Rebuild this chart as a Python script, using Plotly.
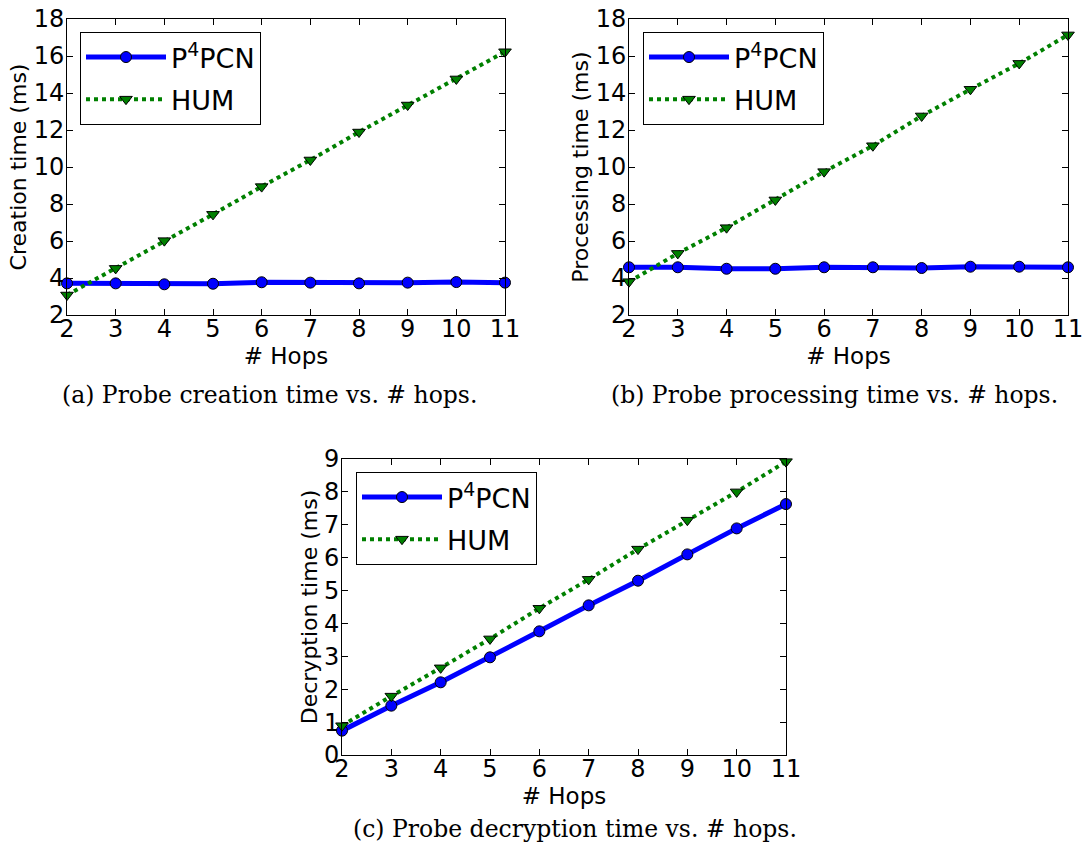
import plotly.graph_objects as go

hops = [2, 3, 4, 5, 6, 7, 8, 9, 10, 11]

creation_p4pcn = [3.71, 3.71, 3.66, 3.69, 3.77, 3.75, 3.71, 3.75, 3.78, 3.75]
creation_hum = [3.08, 4.52, 6.02, 7.44, 8.94, 10.38, 11.89, 13.35, 14.76, 16.23]

processing_p4pcn = [4.58, 4.58, 4.50, 4.50, 4.58, 4.58, 4.54, 4.61, 4.61, 4.58]
processing_hum = [3.80, 5.33, 6.72, 8.22, 9.75, 11.15, 12.76, 14.20, 15.60, 17.14]

decryption_p4pcn = [0.74, 1.50, 2.21, 2.97, 3.76, 4.55, 5.30, 6.10, 6.89, 7.63]
decryption_hum = [0.89, 1.79, 2.65, 3.53, 4.46, 5.34, 6.26, 7.14, 8.00, 8.92]

y_titles = ["Creation time (ms)", "Processing time (ms)", "Decryption time (ms)"]
captions = ["(a) Probe creation time vs. # hops.",
            "(b) Probe processing time vs. # hops.",
            "(c) Probe decryption time vs. # hops."]

W, H = 1090, 851
def px(x):
    return x / W
def py(y):
    return 1 - y / H

fig = go.Figure()

panels = [
    dict(p=creation_p4pcn, h=creation_hum, xd=[px(67), px(505)], yd=[py(315), py(19)],
         yr=[2, 18], dt=2, leg=(80, 32), cap=(269, 395)),
    dict(p=processing_p4pcn, h=processing_hum, xd=[px(629), px(1068)], yd=[py(315), py(19)],
         yr=[2, 18], dt=2, leg=(643, 32), cap=(834, 395)),
    dict(p=decryption_p4pcn, h=decryption_hum, xd=[px(342), px(786)], yd=[py(755), py(459)],
         yr=[0, 9], dt=1, leg=(356, 472), cap=(575, 829)),
]

font_sans = "DejaVu Sans"
for i, pn in enumerate(panels):
    n = "" if i == 0 else str(i + 1)
    legname = "legend" + n
    fig.add_trace(go.Scatter(
        x=hops, y=pn["p"], name="P<sup>4</sup>PCN", mode="lines+markers",
        line=dict(color="#0000ff", width=5),
        marker=dict(symbol="circle", size=11, color="#0000ff", line=dict(color="black", width=1)),
        xaxis="x" + n, yaxis="y" + n, legend=legname, legendgroup="p" + n, cliponaxis=False))
    fig.add_trace(go.Scatter(
        x=hops, y=pn["h"], name="HUM", mode="lines+markers",
        line=dict(color="#008000", width=4, dash="dot"),
        marker=dict(symbol="triangle-down", size=11, color="#008000", line=dict(color="black", width=1)),
        xaxis="x" + n, yaxis="y" + n, legend=legname, legendgroup="h" + n, cliponaxis=False))

    axcommon = dict(showline=True, linecolor="black", linewidth=1, mirror="ticks",
                    ticks="inside", ticklen=6, tickcolor="black", showgrid=False,
                    zeroline=False, automargin=False, ticklabeloverflow="allow",
                    tickfont=dict(family=font_sans, size=24, color="black"))
    fig.layout["xaxis" + n] = dict(
        domain=pn["xd"], range=[2, 11], tickmode="array", tickvals=hops,
        ticklabelstandoff=-8,
        title=dict(text="# Hops", font=dict(family=font_sans, size=23, color="black"), standoff=0),
        anchor="y" + n, **axcommon)
    fig.layout["yaxis" + n] = dict(
        domain=pn["yd"], range=pn["yr"], dtick=pn["dt"],
        ticklabelstandoff=-3,
        title=dict(text=y_titles[i], font=dict(family=font_sans, size=22, color="black"), standoff=0),
        anchor="x" + n, **axcommon)
    fig.layout[legname] = dict(
        x=px(pn["leg"][0]), y=py(pn["leg"][1]), xanchor="left", yanchor="top",
        bordercolor="black", borderwidth=1, bgcolor="white",
        font=dict(family=font_sans, size=27, color="black"), itemwidth=80,
        tracegroupgap=4)
    fig.add_annotation(text=captions[i], x=px(pn["cap"][0]), y=py(pn["cap"][1]),
                       xref="paper", yref="paper", showarrow=False,
                       xanchor="center", yanchor="middle",
                       font=dict(family="DejaVu Serif", size=23.5, color="black"))

fig.update_layout(width=W, height=H, margin=dict(l=0, r=0, t=0, b=0),
                  paper_bgcolor="white", plot_bgcolor="white", showlegend=True)

fig.write_html("out.html", config={"displayModeBar": False},
               post_script="document.body.style.margin='0';document.body.style.overflow='hidden';")
